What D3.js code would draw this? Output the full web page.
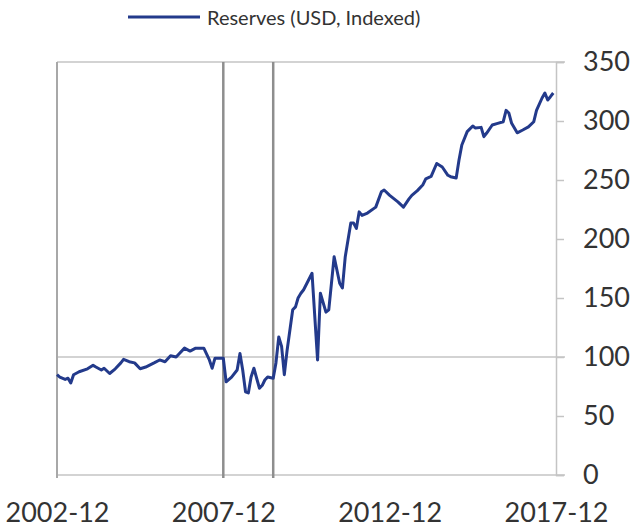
<!DOCTYPE html>
<html>
<head>
<meta charset="utf-8">
<script src="https://cdn.jsdelivr.net/npm/d3@7"></script>
<style>
  html, body { margin: 0; padding: 0; background: #fff; }
  svg { display: block; }
  text { font-family: Lato, "Open Sans", sans-serif; fill: #333; }
</style>
</head>
<body>
<svg id="chart" width="634" height="529"></svg>
<script>
// ---- data ----
const dates = [
  "2002-12","2003-01","2003-03","2003-04","2003-05","2003-06","2003-08","2003-11",
  "2004-01","2004-02","2004-04","2004-05","2004-07","2004-09","2004-11","2004-12",
  "2005-02","2005-04","2005-06","2005-08","2005-11","2006-01","2006-03","2006-05",
  "2006-07","2006-08","2006-10","2006-12","2007-02","2007-05","2007-07","2007-08",
  "2007-09","2007-11","2007-12","2008-01","2008-03","2008-05","2008-06","2008-07",
  "2008-08","2008-09","2008-10","2008-11","2008-12","2009-01","2009-02","2009-03",
  "2009-04","2009-06","2009-07","2009-08","2009-09","2009-10","2009-11","2010-01",
  "2010-02","2010-03","2010-04","2010-05","2010-08","2010-10","2010-11","2011-01",
  "2011-02","2011-04","2011-06","2011-07","2011-08","2011-10","2011-11","2011-12",
  "2012-01","2012-02","2012-04","2012-07","2012-09","2012-10","2012-12","2013-03",
  "2013-05","2013-07","2013-08","2013-10","2013-12","2014-01","2014-03","2014-05",
  "2014-07","2014-09","2014-10","2014-12","2015-01","2015-02","2015-04","2015-06",
  "2015-07","2015-09","2015-10","2015-11","2016-01","2016-03","2016-05","2016-06",
  "2016-07","2016-08","2016-10","2016-12","2017-02","2017-04","2017-05","2017-07",
  "2017-08","2017-09","2017-10","2017-11"
];
const reserves = [
  85, 83, 81, 82, 78, 85, 87.5, 90,
  93, 91.5, 89, 90.5, 86, 90, 95, 98,
  96, 95, 90, 91.5, 95, 97.5, 96, 101,
  100, 102.5, 107.5, 105, 107.5, 107.5, 97.5, 90.5,
  99, 99, 99, 79, 83, 89, 103, 89,
  70.5, 69.5, 83, 90.5, 82, 73.5, 76, 80.5,
  83, 82, 95, 117, 109, 85, 106, 140,
  142.5, 150, 154, 157, 171, 97.5, 154, 138,
  140, 185, 162.5, 158.5, 185, 213.5, 213.5, 209,
  223, 220, 222, 227, 240, 241.5, 237, 231.5,
  227, 234, 237, 241, 246, 251, 253, 264,
  261, 254, 252.8, 251.7, 267, 279.7, 291, 295.8,
  294, 294.6, 286.7, 289.8, 296.6, 298, 299.4, 309,
  306.8, 298, 290, 292.4, 295, 299.4, 309, 319.5,
  323.7, 317.8, 320.6, 323.7
];
const markerDates = ["2007-12", "2009-06"];
const xTickLabels = ["2002-12", "2007-12", "2012-12", "2017-12"];
const yTicks = [0, 50, 100, 150, 200, 250, 300, 350];
const gridValues = [0, 100, 350];
const seriesName = "Reserves (USD, Indexed)";

// ---- layout ----
const svg = d3.select("#chart");
const m = { left: 57, right: 556, top: 62, bottom: 475 };
const parse = d3.timeParse("%Y-%m");
const data = dates.map((d, i) => ({ date: parse(d), value: reserves[i] }));

const x = d3.scaleTime()
  .domain([parse(xTickLabels[0]), parse(xTickLabels[xTickLabels.length - 1])])
  .range([m.left, m.right]);
const y = d3.scaleLinear().domain([0, 350]).range([m.bottom, m.top]);

const lineColor = "#233a8b";
const gridColor = "#c4c4c4";

// grid lines at 0, 100, 350 (extend past the axis)
svg.append("g").selectAll("line").data(gridValues).join("line")
  .attr("x1", m.left).attr("x2", m.right + 9)
  .attr("y1", d => y(d)).attr("y2", d => y(d))
  .attr("stroke", gridColor).attr("stroke-width", 1.5);

// left border
svg.append("line")
  .attr("x1", m.left).attr("x2", m.left)
  .attr("y1", m.top).attr("y2", m.bottom + 3)
  .attr("stroke", "#a8a8a8").attr("stroke-width", 2);

// right axis
const yAxis = d3.axisRight(y).tickValues(yTicks).tickSize(8).tickPadding(19)
  .tickFormat(d3.format("d"));
const ya = svg.append("g").attr("transform", `translate(${m.right},0)`).call(yAxis);
ya.select(".domain").attr("stroke", gridColor).attr("stroke-width", 1.5);
ya.selectAll(".tick line").attr("stroke", gridColor).attr("stroke-width", 1.5);
ya.selectAll(".tick text").style("font-size", "27px").attr("fill", "#333")
  .style("font-family", "Lato, 'Open Sans', sans-serif");

// x labels
const xAxis = d3.axisBottom(x).tickValues(xTickLabels.map(parse))
  .tickSize(0).tickPadding(28).tickFormat(d3.timeFormat("%Y-%m"));
const xa = svg.append("g").attr("transform", `translate(0,${m.bottom})`).call(xAxis);
xa.select(".domain").remove();
xa.selectAll(".tick text").style("font-size", "27px").attr("fill", "#333")
  .style("font-family", "Lato, 'Open Sans', sans-serif");

// vertical marker lines
svg.append("g").selectAll("line").data(markerDates).join("line")
  .attr("x1", d => x(parse(d))).attr("x2", d => x(parse(d)))
  .attr("y1", m.top).attr("y2", m.bottom + 3)
  .attr("stroke", "#8e8e8e").attr("stroke-width", 2.5);

// series line
svg.append("path").datum(data)
  .attr("fill", "none").attr("stroke", lineColor).attr("stroke-width", 3)
  .attr("stroke-linejoin", "round")
  .attr("d", d3.line().x(d => x(d.date)).y(d => y(d.value)));

// legend
const lg = svg.append("g");
lg.append("line").attr("x1", 128).attr("x2", 200).attr("y1", 17).attr("y2", 17)
  .attr("stroke", lineColor).attr("stroke-width", 3);
lg.append("text").attr("x", 207).attr("y", 25).style("font-size", "20px")
  .text(seriesName);
</script>
</body>
</html>
